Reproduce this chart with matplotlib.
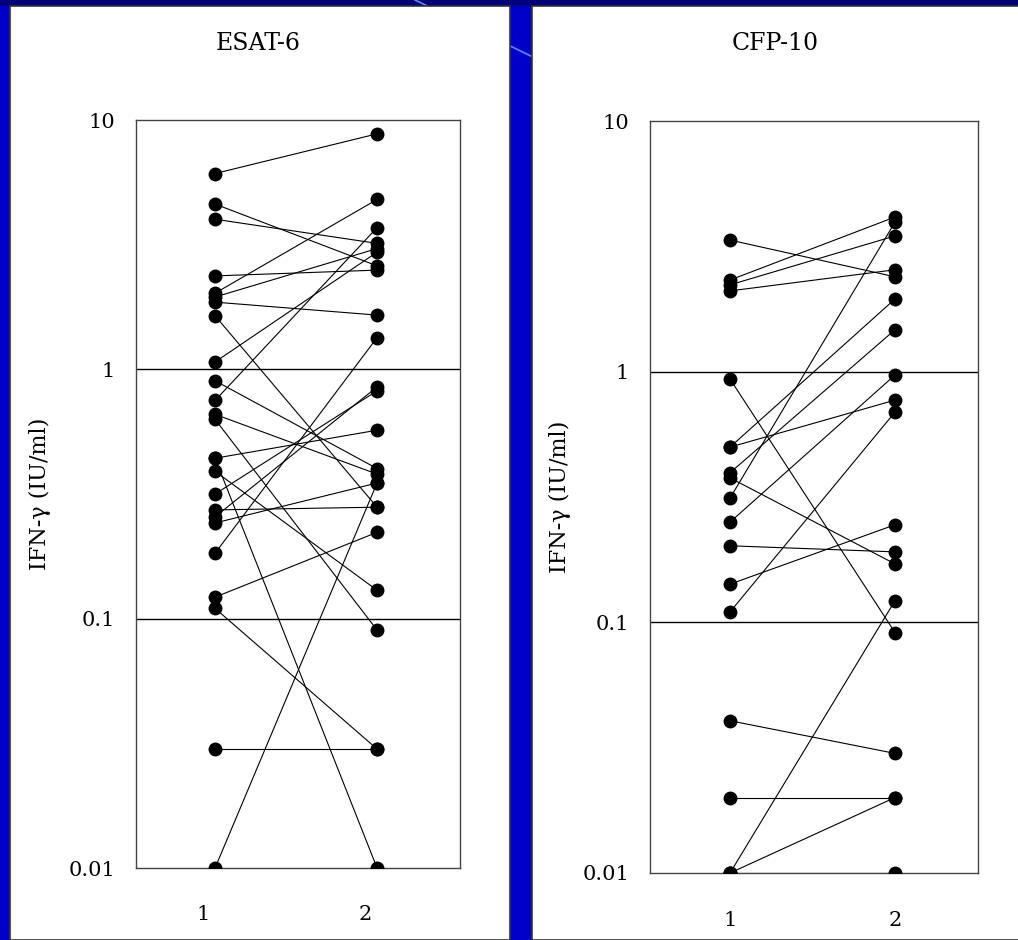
import matplotlib
matplotlib.use("Agg")
import matplotlib.pyplot as plt
import matplotlib.transforms as mtransforms
from matplotlib.patches import Rectangle
from matplotlib.lines import Line2D

plt.rcParams['font.family'] = ['DejaVu Serif', 'Liberation Serif']

# ---------------- data ----------------
visits = [1, 2]
visit_labels = ["1", "2"]
y_ticks = [0.01, 0.1, 1, 10]
y_tick_labels = ["0.01", "0.1", "1", "10"]

esat_title = "ESAT-6"
esat_visit1 = [6.1, 4.6, 4.0, 2.37, 2.02, 1.95, 1.86, 1.64, 1.07, 0.90, 0.75, 0.66,
               0.63, 0.44, 0.44, 0.39, 0.316, 0.273, 0.256, 0.242, 0.183, 0.122,
               0.110, 0.030, 0.01]
esat_visit2 = [8.8, 2.6, 3.2, 2.5, 4.8, 3.05, 1.65, 0.28, 2.95, 0.40, 3.7, 0.38,
               0.09, 0.57, 0.01, 0.13, 0.82, 0.28, 0.85, 0.35, 1.34, 0.222,
               0.030, 0.030, 0.35]

cfp_title = "CFP-10"
cfp_visit1 = [3.35, 2.32, 2.22, 2.10, 0.935, 0.50, 0.50, 0.395, 0.377, 0.313,
              0.251, 0.202, 0.142, 0.110, 0.0405, 0.020, 0.01, 0.01, 0.01]
cfp_visit2 = [2.39, 4.14, 3.48, 2.55, 0.091, 1.95, 0.77, 1.47, 0.171, 3.95,
              0.97, 0.191, 0.245, 0.69, 0.030, 0.020, 0.020, 0.122, 0.01]

y_label = "IFN-γ (IU/ml)"

# ---------------- figure ----------------
W, H = 1018, 940
fig = plt.figure(figsize=(W / 100, H / 100), dpi=100)
fig.patch.set_facecolor('#0000c8')

def px(x0, y0, x1, y1):
    """figure-pixel box (top-left origin) -> fig fraction rect"""
    return [x0 / W, 1 - y1 / H, (x1 - x0) / W, (y1 - y0) / H]

# decorative background elements
fig.add_artist(Rectangle((0, 1 - 6 / H), 1, 6 / H, transform=fig.transFigure,
                         facecolor='#00007a', edgecolor='none', zorder=0))
fig.add_artist(Line2D([415 / W, 535 / W], [1 - 0 / H, 1 - 58 / H],
                      transform=fig.transFigure, color='#5a8cff', lw=1.2, zorder=0.5))

# white panels
for (x0, x1) in [(10, 510), (532, 1030)]:
    fig.add_artist(Rectangle((x0 / W, 0), (x1 - x0) / W, 1 - 6 / H,
                             transform=fig.transFigure, facecolor='white',
                             edgecolor='#333333', lw=1.2, zorder=1))

panels = [
    dict(title=esat_title, v1=esat_visit1, v2=esat_visit2,
         box=(136, 120, 460, 868), xlim=(0.512, 2.512), title_x=258,
         ylab_x=40, lab_shift=-12),
    dict(title=cfp_title, v1=cfp_visit1, v2=cfp_visit2,
         box=(650, 121, 978, 873), xlim=(0.515, 2.503), title_x=775,
         ylab_x=560, lab_shift=0),
]

for p in panels:
    ax = fig.add_axes(px(*p['box']))
    ax.set_zorder(2)
    ax.set_facecolor('white')
    ax.set_yscale('log')
    ax.set_ylim(0.01, 10)
    ax.set_xlim(*p['xlim'])

    for a, b in zip(p['v1'], p['v2']):
        ax.plot(visits, [a, b], color='black', lw=0.8, zorder=3)
    ax.plot([visits[0]] * len(p['v1']), p['v1'], 'o', color='black', ms=10, zorder=4,
            markeredgewidth=0)
    ax.plot([visits[1]] * len(p['v2']), p['v2'], 'o', color='black', ms=10, zorder=4,
            markeredgewidth=0)

    for g in [0.1, 1]:
        ax.axhline(g, color='black', lw=1.0, zorder=2)

    ax.set_yticks(y_ticks)
    ax.set_yticklabels(y_tick_labels)
    ax.yaxis.set_minor_locator(matplotlib.ticker.NullLocator())
    ax.set_xticks(visits)
    ax.set_xticklabels(visit_labels)
    ax.tick_params(axis='y', length=0, pad=15, labelsize=15)
    ax.tick_params(axis='x', length=0, pad=27, labelsize=15)
    if p['lab_shift']:
        off = mtransforms.ScaledTranslation(p['lab_shift'] / 100, 0, fig.dpi_scale_trans)
        for lab in ax.get_xticklabels():
            lab.set_transform(lab.get_transform() + off)
    for s in ax.spines.values():
        s.set_color('#444444')
        s.set_linewidth(1.0)

    fig.text(p['title_x'] / W, 1 - 43 / H, p['title'], ha='center', va='center',
             fontsize=17, zorder=5)
    cy = (p['box'][1] + p['box'][3]) / 2
    fig.text(p['ylab_x'] / W, 1 - cy / H, y_label, rotation=90, ha='center',
             va='center', fontsize=16, zorder=5)

fig.savefig('out.png', dpi=100, facecolor=fig.get_facecolor())
